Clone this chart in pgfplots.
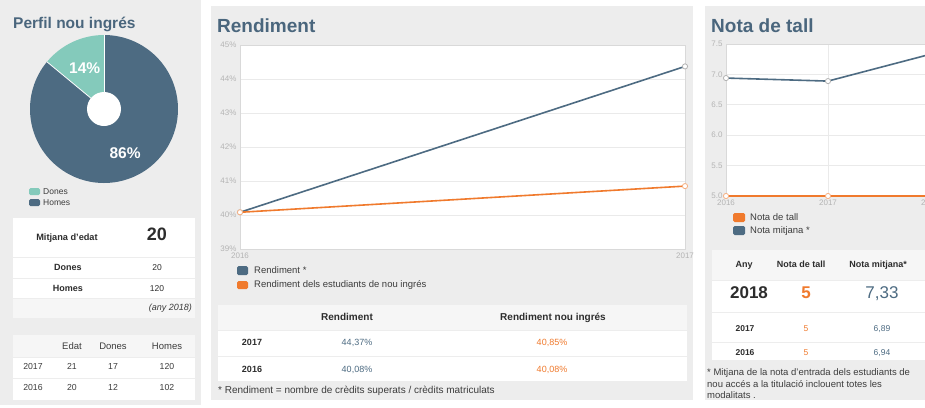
\documentclass[border=0pt]{standalone}
\usepackage{fontspec}
\setmainfont{Liberation Sans}
\usepackage{pgfplots}
\pgfplotsset{compat=1.18}

\definecolor{panel}{RGB}{237,237,237}
\definecolor{hdr}{RGB}{246,246,246}
\definecolor{blau}{RGB}{77,107,130}
\definecolor{titol}{RGB}{74,102,125}
\definecolor{verd}{RGB}{132,202,187}
\definecolor{taronja}{RGB}{240,122,45}
\definecolor{txt}{RGB}{60,60,60}
\definecolor{fosc}{RGB}{45,45,45}
\definecolor{tickc}{RGB}{180,180,180}
\definecolor{gridc}{RGB}{234,234,234}

\newcommand{\fs}[1]{\fontsize{#1}{#1}\selectfont}

\pgfplotsset{
  panell/.style={
    scale only axis,
    anchor=south west,
    axis background/.style={fill=white},
    axis line style={draw=black!15},
    major tick length=0pt,
    ymajorgrids,
    grid style={draw=gridc, line width=0.7pt},
    tick label style={font=\fs{8}, text=tickc},
    /pgf/number format/assume math mode=true,
    clip=false,
  }
}

\def\pDones{14}
\def\pHomes{86}

\begin{document}
\begin{tikzpicture}
\useasboundingbox (0pt,0pt) rectangle (925pt,-407pt);
\fill[white] (0pt,0pt) rectangle (925pt,-407pt);

\begin{scope}[x=1pt,y=-1pt, t/.style={inner sep=0pt, text=txt, anchor=mid}]
  % panells
  \fill[panel] (0,0) rectangle (201,405);
  \fill[panel] (211,6) rectangle (693,400);
  \fill[panel] (705,6) rectangle (925,400);

  % ---- Perfil nou ingres ----
  \node[t, anchor=base west, text=titol, font=\fs{15.5}\bfseries] at (13,28) {Perfil nou ingrés};
  \fill[verd, rounded corners=1.5pt] (29,188) rectangle (40,195);
  \node[t, anchor=mid west, font=\fs{8.5}] at (43,191.5) {Dones};
  \fill[blau, rounded corners=1.5pt] (29,199) rectangle (40,206);
  \node[t, anchor=mid west, font=\fs{8.5}] at (43,202.5) {Homes};

  \fill[white] (13,218) rectangle (195,318);
  \fill[hdr] (13,298) rectangle (195,318);
  \draw[panel, line width=0.8pt] (13,257) -- (195,257) (13,278) -- (195,278) (13,298) -- (195,298);
  \node[t, text=fosc, font=\fs{9.2}\bfseries] at (67,238) {Mitjana d'edat};
  \node[t, text=fosc, font=\fs{18}\bfseries] at (157,238) {20};
  \node[t, text=fosc, font=\fs{9}\bfseries] at (68,268) {Dones};
  \node[t, text=fosc, font=\fs{8.5}] at (157,268) {20};
  \node[t, text=fosc, font=\fs{9}\bfseries] at (68,289) {Homes};
  \node[t, text=fosc, font=\fs{8.5}] at (157,289) {120};
  \node[t, anchor=mid east, font=\fs{9}\itshape] at (192,308) {(any 2018)};

  \fill[white] (13,335) rectangle (195,400);
  \fill[hdr] (13,335) rectangle (195,357);
  \draw[panel, line width=0.8pt] (13,357) -- (195,357) (13,378) -- (195,378);
  \node[t, font=\fs{9.5}] at (72,347) {Edat};
  \node[t, font=\fs{9.5}] at (113,347) {Dones};
  \node[t, font=\fs{9.5}] at (167,347) {Homes};
  \node[t, font=\fs{8.7}] at (33,367) {2017};
  \node[t, font=\fs{8.7}] at (72,367) {21};
  \node[t, font=\fs{8.7}] at (113,367) {17};
  \node[t, font=\fs{8.7}] at (167,367) {120};
  \node[t, font=\fs{8.7}] at (33,388) {2016};
  \node[t, font=\fs{8.7}] at (72,388) {20};
  \node[t, font=\fs{8.7}] at (113,388) {12};
  \node[t, font=\fs{8.7}] at (167,388) {102};

  % ---- Rendiment ----
  \node[t, anchor=base west, text=titol, font=\fs{19}\bfseries] at (217,32) {Rendiment};
  \fill[blau, rounded corners=1.5pt] (237,266) rectangle (248,275);
  \node[t, anchor=mid west, font=\fs{9.5}] at (254,270.5) {Rendiment *};
  \fill[taronja, rounded corners=1.5pt] (237,281) rectangle (248,289);
  \node[t, anchor=mid west, font=\fs{9.5}] at (254,285) {Rendiment dels estudiants de nou ingrés};

  \fill[white] (218,305) rectangle (687,381);
  \fill[hdr] (218,305) rectangle (687,330);
  \draw[panel, line width=0.8pt] (218,330) -- (687,330) (218,356) -- (687,356);
  \node[t, text=fosc, font=\fs{10}\bfseries] at (347,318) {Rendiment};
  \node[t, text=fosc, font=\fs{10}\bfseries] at (553,318) {Rendiment nou ingrés};
  \node[t, text=fosc, font=\fs{9}\bfseries] at (252,343) {2017};
  \node[t, text=blau, font=\fs{9}] at (357,343) {44,37\%};
  \node[t, text=taronja, font=\fs{9}] at (552,343) {40,85\%};
  \node[t, text=fosc, font=\fs{9}\bfseries] at (252,370) {2016};
  \node[t, text=blau, font=\fs{9}] at (357,370) {40,08\%};
  \node[t, text=taronja, font=\fs{9}] at (552,370) {40,08\%};
  \node[t, anchor=mid west, font=\fs{10}] at (218,391) {* Rendiment = nombre de crèdits superats / crèdits matriculats};

  % ---- Nota de tall ----
  \node[t, anchor=base west, text=titol, font=\fs{19}\bfseries] at (711,32) {Nota de tall};
  \fill[taronja, rounded corners=1.5pt] (733,213) rectangle (745,222);
  \node[t, anchor=mid west, font=\fs{9.5}] at (750,217.5) {Nota de tall};
  \fill[blau, rounded corners=1.5pt] (733,226) rectangle (745,235);
  \node[t, anchor=mid west, font=\fs{9.5}] at (750,230.5) {Nota mitjana *};

  \fill[white] (712,250) rectangle (925,360);
  \fill[hdr] (712,250) rectangle (925,280);
  \draw[panel, line width=0.8pt] (712,280) -- (925,280) (712,312) -- (925,312) (712,342) -- (925,342);
  \node[t, text=fosc, font=\fs{9}\bfseries] at (744,265) {Any};
  \node[t, text=fosc, font=\fs{9}\bfseries] at (801,265) {Nota de tall};
  \node[t, text=fosc, font=\fs{9}\bfseries] at (878,265) {Nota mitjana*};
  \node[t, text=fosc, font=\fs{17}\bfseries] at (749,296) {2018};
  \node[t, text=taronja, font=\fs{17}\bfseries] at (806,296) {5};
  \node[t, text=blau, font=\fs{17}] at (882,296) {7,33};
  \node[t, text=fosc, font=\fs{8.5}\bfseries] at (745,329) {2017};
  \node[t, text=taronja, font=\fs{8.5}] at (806,329) {5};
  \node[t, text=blau, font=\fs{8.5}] at (882,329) {6,89};
  \node[t, text=fosc, font=\fs{8.5}\bfseries] at (745,353) {2016};
  \node[t, text=taronja, font=\fs{8.5}] at (806,353) {5};
  \node[t, text=blau, font=\fs{8.5}] at (882,353) {6,94};
  \node[t, anchor=mid west, font=\fs{9.5}] at (707,373) {* Mitjana de la nota d'entrada dels estudiants de};
  \node[t, anchor=mid west, font=\fs{9.5}] at (707,385) {nou accés a la titulació inclouent totes les};
  \node[t, anchor=mid west, font=\fs{9.5}] at (707,396) {modalitats .};
\end{scope}

% ---- donut ----
\pgfmathsetmacro\aFi{90+3.6*\pDones}
\begin{axis}[at={(30pt,-183pt)}, anchor=south west, scale only axis,
  width=148pt, height=148pt, xmin=-1, xmax=1, ymin=-1, ymax=1,
  hide axis, clip=false]
  \fill[verd] (axis cs:0,0) -- (axis cs:0,1) arc[start angle=90, end angle=\aFi, radius=74pt] -- cycle;
  \fill[blau] (axis cs:0,0) -- ++(\aFi:74pt) arc[start angle=\aFi, end angle=450, radius=74pt] -- cycle;
  \draw[white, line width=0.8pt] (axis cs:0,0) -- (axis cs:0,1);
  \draw[white, line width=0.8pt] (axis cs:0,0) -- ++(\aFi:74pt);
  \fill[white] (axis cs:0,0) circle[radius=17pt];
  \node[inner sep=0pt, text=white, font=\fs{15.5}\bfseries] at (axis cs:-0.26,0.55) {\pDones\%};
  \node[inner sep=0pt, text=white, font=\fs{15.5}\bfseries] at (axis cs:0.285,-0.59) {\pHomes\%};
\end{axis}

% ---- Rendiment ----
\begin{axis}[panell, at={(240pt,-249pt)}, width=445pt, height=204pt,
  xmin=2016, xmax=2017, ymin=39, ymax=45,
  xtick={2016,2017}, xticklabels={2016,2017},
  ytick={39,40,...,45},
  yticklabel={\pgfmathprintnumber{\tick}\%}]
  \addplot[color=blau, line width=1.6pt, mark=*, mark size=2.6pt,
    mark options={fill=white, draw=gray!60, line width=0.8pt}]
    coordinates {(2016,40.08) (2017,44.37)};
  \addplot[color=taronja, line width=1.6pt, mark=*, mark size=2.6pt,
    mark options={fill=white, draw=taronja!60, line width=0.8pt}]
    coordinates {(2016,40.08) (2017,40.85)};
\end{axis}

% ---- Nota de tall ----
\begin{axis}[panell, at={(726pt,-196pt)}, width=204pt, height=152pt,
  xmin=2016, xmax=2018, ymin=5, ymax=7.5,
  xtick={2016,2017,2018}, xticklabels={2016,2017,2018},
  xmajorgrids,
  ytick={5,5.5,...,7.5},
  yticklabel style={/pgf/number format/.cd, fixed, fixed zerofill, precision=1}]
  \addplot[color=blau, line width=1.6pt, mark=*, mark size=2.6pt,
    mark options={fill=white, draw=gray!60, line width=0.8pt}]
    coordinates {(2016,6.94) (2017,6.89) (2018,7.33)};
  \addplot[color=taronja, line width=1.6pt, mark=*, mark size=2.6pt,
    mark options={fill=white, draw=taronja!60, line width=0.8pt}]
    coordinates {(2016,5) (2017,5) (2018,5)};
\end{axis}
\end{tikzpicture}
\end{document}
